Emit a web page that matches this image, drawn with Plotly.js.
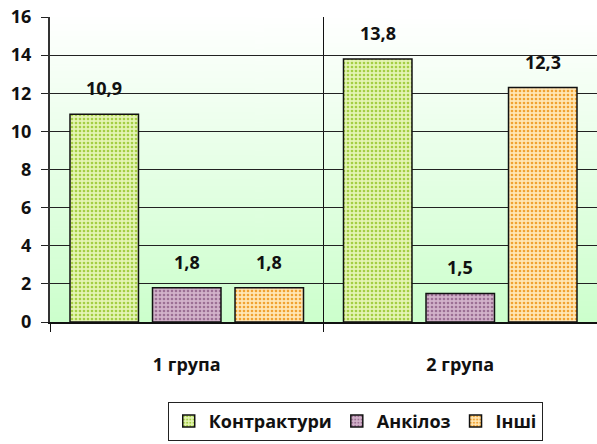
<!DOCTYPE html>
<html>
<head>
<meta charset="utf-8">
<script src="https://cdn.plot.ly/plotly-3.0.1.min.js"></script>
<style>html,body{margin:0;padding:0;background:#fff;}#chart{width:597px;height:444px;}</style>
</head>
<body>
<div id="chart"></div>
<script>
const categories = ['1 група', '2 група'];
const seriesNames = ['Контрактури', 'Анкілоз', 'Інші'];
const contractures = [10.9, 13.8];
const ankylosis = [1.8, 1.5];
const others = [1.8, 12.3];
const yTicks = [0, 2, 4, 6, 8, 10, 12, 14, 16];

const seriesValues = [contractures, ankylosis, others];
const styles = [
  {color: '#c8e680', bg: '#e4f4b4', fg: '#a4ce44'},
  {color: '#b888ae', bg: '#d2b2ca', fg: '#9c7094'},
  {color: '#f8c46c', bg: '#ffe6b4', fg: '#f0a232'}
];

const FONT = '"Open Sans", Lato, sans-serif';
const FS = 18;
const bargap = 0.095;
const bargroupgap = 0.17;

// gradient background image
const cv = document.createElement('canvas');
cv.width = 4; cv.height = 256;
const ctx = cv.getContext('2d');
const grad = ctx.createLinearGradient(0, 0, 0, 256);
grad.addColorStop(0, '#ffffff');
grad.addColorStop(1, '#ccffcc');
ctx.fillStyle = grad;
ctx.fillRect(0, 0, 4, 256);
const bgUrl = cv.toDataURL();

const traces = seriesNames.map((name, i) => ({
  type: 'bar',
  name: name,
  x: categories,
  y: seriesValues[i],
  marker: {
    color: styles[i].color,
    line: {color: '#111', width: 1.5},
    pattern: {shape: '.', bgcolor: styles[i].bg, fgcolor: styles[i].fg, size: 4, solidity: 0.35, fillmode: 'replace'}
  },
  hoverinfo: 'skip'
}));

const fmt = v => v.toFixed(1).replace('.', ',');
const slot = (1 - bargap) / seriesNames.length;
const annotations = [];
seriesValues.forEach((vals, i) => {
  vals.forEach((v, j) => {
    annotations.push({
      x: j + (i - (seriesNames.length - 1) / 2) * slot,
      y: v,
      xref: 'x', yref: 'y',
      text: fmt(v),
      showarrow: false,
      yanchor: 'middle',
      yshift: 26,
      font: {family: FONT, size: FS, color: '#111', weight: 700}
    });
  });
});

const layout = {
  width: 597, height: 444,
  margin: {l: 50, r: 0, t: 17, b: 122, pad: 0},
  paper_bgcolor: '#ffffff',
  plot_bgcolor: 'rgba(0,0,0,0)',
  barmode: 'group',
  bargap: bargap,
  bargroupgap: bargroupgap,
  font: {family: FONT, size: FS, color: '#111', weight: 700},
  showlegend: true,
  legend: {
    orientation: 'h',
    x: 0.558, xanchor: 'center',
    y: -0.262, yanchor: 'top',
    bordercolor: '#222', borderwidth: 1,
    bgcolor: '#fff',
    itemwidth: 30,
    font: {family: FONT, size: FS, color: '#111', weight: 700}
  },
  xaxis: {
    type: 'category',
    tickson: 'boundaries',
    showgrid: true, gridcolor: '#111', gridwidth: 1,
    ticks: 'outside', ticklen: 8, tickcolor: '#111', tickwidth: 1,
    showline: true, linecolor: '#111', linewidth: 1.5,
    ticklabelstandoff: 26,
    tickfont: {family: FONT, size: FS, color: '#111', weight: 700}
  },
  yaxis: {
    range: [0, 16],
    tickvals: yTicks,
    ticktext: yTicks.map(String),
    showgrid: true, gridcolor: '#222', gridwidth: 1,
    zeroline: false,
    ticks: 'outside', ticklen: 7, tickcolor: '#222', tickwidth: 1,
    showline: true, linecolor: '#333', linewidth: 2,
    ticklabelstandoff: 6,
    tickfont: {family: FONT, size: FS, color: '#111', weight: 700}
  },
  images: [{
    source: bgUrl, xref: 'paper', yref: 'paper',
    x: 0, y: 1, sizex: 1, sizey: 1, sizing: 'stretch',
    xanchor: 'left', yanchor: 'top', layer: 'below'
  }],
  annotations: annotations
};

Plotly.newPlot('chart', traces, layout, {displayModeBar: false, staticPlot: true});
</script>
</body>
</html>
